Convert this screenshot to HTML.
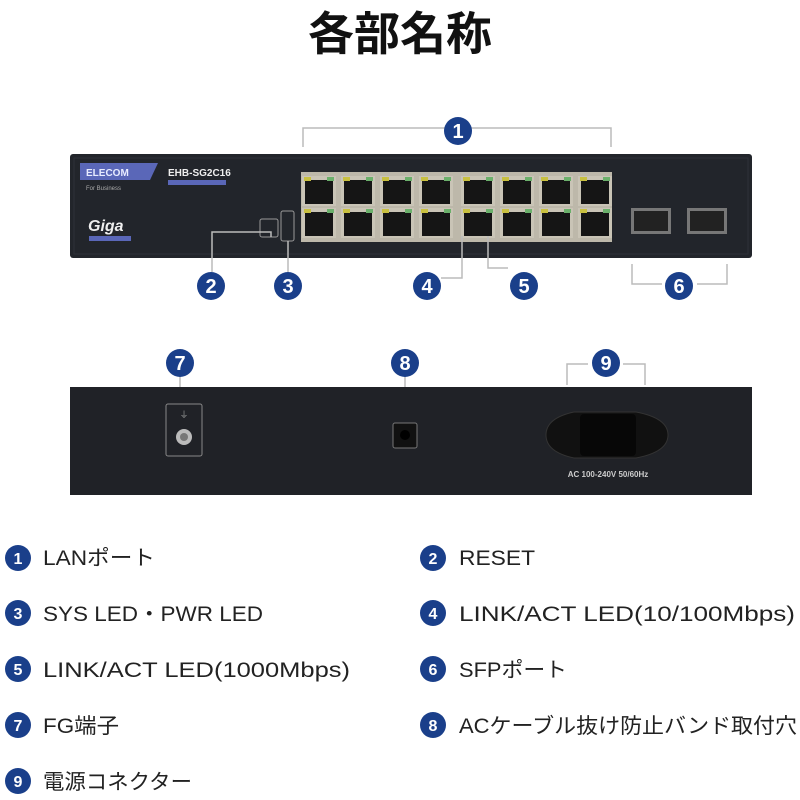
<!DOCTYPE html>
<html><head><meta charset="utf-8"><style>
html,body{margin:0;padding:0;background:#fff;width:800px;height:800px;overflow:hidden}
svg{display:block}
.t{font-family:"Liberation Sans","Noto Sans CJK JP",sans-serif}
</style></head><body>
<svg width="800" height="800" viewBox="0 0 800 800" xmlns="http://www.w3.org/2000/svg">
<defs>
<g id="port"><rect x="0" y="0" width="34" height="30" fill="#c9c4b6"/><rect x="3" y="4" width="28" height="24" fill="#151515"/><rect x="2" y="1" width="7" height="4" fill="#c8c040"/><rect x="25" y="1" width="7" height="4" fill="#6bb06b"/></g>
</defs>
<text x="400" y="50" text-anchor="middle" class="t" style="font-size:46px;font-weight:bold" fill="#111">各部名称</text>

<path d="M303 147 V128 H611 V147" fill="none" stroke="#bbb" stroke-width="1.5"/>
<rect x="70" y="154" width="682" height="104" rx="3" fill="#22252b"/>
<rect x="74" y="158" width="674" height="96" fill="none" stroke="#2e3138" stroke-width="1"/>
<polygon points="80,163 158,163 150,180 80,180" fill="#5a67b8"/>
<text x="86" y="176" class="t" style="font-size:10px;font-weight:bold" fill="#e8ecff">ELECOM</text>
<text x="86" y="190" class="t" style="font-size:6px" fill="#aaa">For Business</text>
<text x="168" y="176" class="t" style="font-size:10px;font-weight:bold" fill="#eee">EHB-SG2C16</text>
<rect x="168" y="180" width="58" height="5" fill="#5a67b8"/>
<text x="88" y="231" class="t" style="font-size:16px;font-weight:bold;font-style:italic" fill="#eee">Giga</text>
<rect x="89" y="236" width="42" height="5" fill="#5a67b8"/>
<rect x="260" y="219" width="18" height="18" rx="2" fill="none" stroke="#999"/>
<rect x="281" y="211" width="13" height="30" rx="2" fill="none" stroke="#999"/>
<rect x="301" y="172" width="311" height="70" fill="#bdb8aa"/>
<g>
<use href="#port" x="302" y="176"/><use href="#port" x="341" y="176"/><use href="#port" x="380" y="176"/><use href="#port" x="419" y="176"/>
<use href="#port" x="461" y="176"/><use href="#port" x="500" y="176"/><use href="#port" x="539" y="176"/><use href="#port" x="578" y="176"/>
<use href="#port" x="302" y="208"/><use href="#port" x="341" y="208"/><use href="#port" x="380" y="208"/><use href="#port" x="419" y="208"/>
<use href="#port" x="461" y="208"/><use href="#port" x="500" y="208"/><use href="#port" x="539" y="208"/><use href="#port" x="578" y="208"/>
</g>
<rect x="631" y="208" width="40" height="26" fill="#777"/><rect x="634" y="211" width="34" height="20" fill="#222"/>
<rect x="687" y="208" width="40" height="26" fill="#777"/><rect x="690" y="211" width="34" height="20" fill="#222"/>
<path d="M271 237 V232 H212 V272" fill="none" stroke="#bbb" stroke-width="1.5"/>
<path d="M288 241 V272" fill="none" stroke="#bbb" stroke-width="1.5"/>
<path d="M462 236 V278 H441" fill="none" stroke="#bbb" stroke-width="1.5"/>
<path d="M488 236 V268 H508" fill="none" stroke="#bbb" stroke-width="1.5"/>
<path d="M632 264 V284 H662 M697 284 H727 V264" fill="none" stroke="#bbb" stroke-width="1.5"/>
<path d="M567 385 V364 H588 M623 364 H645 V385" fill="none" stroke="#bbb" stroke-width="1.5"/>
<path d="M180 376 V400 M405 376 V420" fill="none" stroke="#bbb" stroke-width="1.5"/>

<rect x="70" y="387" width="682" height="108" fill="#202227"/>
<rect x="166" y="404" width="36" height="52" rx="2" fill="none" stroke="#888"/>
<text x="184" y="418" text-anchor="middle" class="t" style="font-size:9px" fill="#999">⏚</text>
<circle cx="184" cy="437" r="8" fill="#bbb"/><circle cx="184" cy="437" r="4" fill="#777"/>
<rect x="393" y="423" width="24" height="25" rx="2" fill="#111" stroke="#777"/><circle cx="405" cy="435" r="5" fill="#000"/>
<path d="M574 412 H636 Q668 418 668 435 Q668 452 636 458 H574 Q546 452 546 435 Q546 418 574 412 Z" fill="#111" stroke="#333"/>
<rect x="580" y="414" width="56" height="42" rx="4" fill="#070707"/>
<text x="608" y="477" text-anchor="middle" class="t" style="font-size:8px;font-weight:bold" fill="#ccc">AC 100-240V 50/60Hz</text>

<g class="t" style="font-size:20px;font-weight:bold" text-anchor="middle" fill="#fff">
<circle cx="458" cy="131" r="14" fill="#1a3f8a"/><text x="458" y="138">1</text>
<circle cx="211" cy="286" r="14" fill="#1a3f8a"/><text x="211" y="293">2</text>
<circle cx="288" cy="286" r="14" fill="#1a3f8a"/><text x="288" y="293">3</text>
<circle cx="427" cy="286" r="14" fill="#1a3f8a"/><text x="427" y="293">4</text>
<circle cx="524" cy="286" r="14" fill="#1a3f8a"/><text x="524" y="293">5</text>
<circle cx="679" cy="286" r="14" fill="#1a3f8a"/><text x="679" y="293">6</text>
<circle cx="180" cy="363" r="14" fill="#1a3f8a"/><text x="180" y="370">7</text>
<circle cx="405" cy="363" r="14" fill="#1a3f8a"/><text x="405" y="370">8</text>
<circle cx="606" cy="363" r="14" fill="#1a3f8a"/><text x="606" y="370">9</text>
</g>

<g class="t" style="font-size:16px;font-weight:bold" text-anchor="middle" fill="#fff">
<circle cx="18" cy="558" r="13" fill="#1a3f8a"/><text x="18" y="564">1</text>
<circle cx="18" cy="613" r="13" fill="#1a3f8a"/><text x="18" y="619">3</text>
<circle cx="18" cy="669" r="13" fill="#1a3f8a"/><text x="18" y="675">5</text>
<circle cx="18" cy="725" r="13" fill="#1a3f8a"/><text x="18" y="731">7</text>
<circle cx="18" cy="781" r="13" fill="#1a3f8a"/><text x="18" y="787">9</text>
<circle cx="433" cy="558" r="13" fill="#1a3f8a"/><text x="433" y="564">2</text>
<circle cx="433" cy="613" r="13" fill="#1a3f8a"/><text x="433" y="619">4</text>
<circle cx="433" cy="669" r="13" fill="#1a3f8a"/><text x="433" y="675">6</text>
<circle cx="433" cy="725" r="13" fill="#1a3f8a"/><text x="433" y="731">8</text>
</g>
<g class="t" style="font-size:21px" fill="#222">
<text x="43" y="565" textLength="112" lengthAdjust="spacingAndGlyphs">LANポート</text>
<text x="43" y="621" textLength="220" lengthAdjust="spacingAndGlyphs">SYS LED・PWR LED</text>
<text x="43" y="677" textLength="307" lengthAdjust="spacingAndGlyphs">LINK/ACT LED(1000Mbps)</text>
<text x="43" y="733" textLength="76" lengthAdjust="spacingAndGlyphs">FG端子</text>
<text x="43" y="789" textLength="149" lengthAdjust="spacingAndGlyphs">電源コネクター</text>
<text x="459" y="565" textLength="76" lengthAdjust="spacingAndGlyphs">RESET</text>
<text x="459" y="621" textLength="336" lengthAdjust="spacingAndGlyphs">LINK/ACT LED(10/100Mbps)</text>
<text x="459" y="677" textLength="108" lengthAdjust="spacingAndGlyphs">SFPポート</text>
<text x="459" y="733" textLength="338" lengthAdjust="spacingAndGlyphs">ACケーブル抜け防止バンド取付穴</text>
</g>
</svg>
</body></html>
